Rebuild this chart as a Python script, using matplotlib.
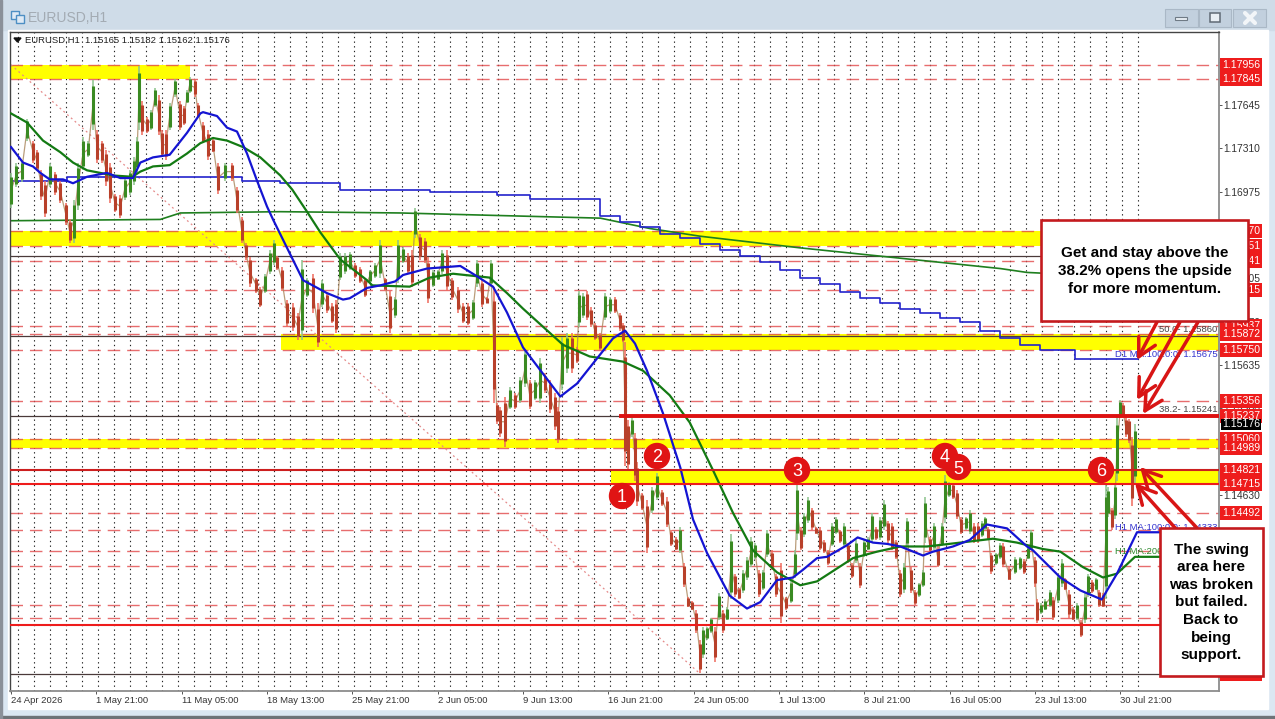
import matplotlib
matplotlib.use("Agg")
import matplotlib.pyplot as plt
from matplotlib.patches import Rectangle, Circle
import numpy as np

plt.rcParams["font.family"] = ["Liberation Sans", "DejaVu Sans"]

W, H = 1275, 719
CHART_L, CHART_T, CHART_R, CHART_B = 10, 32, 1219, 691

# ------------------------------------------------------------------ data
title_text = "EURUSD,H1  1.15165 1.15182 1.15162 1.15176"
time_ticks = [0, 128, 256, 384, 512, 640, 768, 896, 1024, 1152, 1280, 1408, 1536, 1664]
time_labels = ["24 Apr 2026", "1 May 21:00", "11 May 05:00", "18 May 13:00", "25 May 21:00",
               "2 Jun 05:00", "9 Jun 13:00", "16 Jun 21:00", "24 Jun 05:00", "1 Jul 13:00",
               "8 Jul 21:00", "16 Jul 05:00", "23 Jul 13:00", "30 Jul 21:00"]
price_ticks = [1.17980, 1.17645, 1.17310, 1.16975, 1.16305, 1.15970, 1.15635, 1.15300, 1.14630]

# hourly bar number of each sampled candle, with its high and low
bars = [0, 8, 16, 24, 33, 39, 45, 51, 58, 66, 74, 82, 88, 94, 100, 108, 116, 123, 129, 136,
        142, 148, 156, 164, 171, 178, 184, 189, 192, 196, 204, 210, 216, 222, 226, 232, 238, 246, 254, 260,
        264, 268, 276, 280, 288, 296, 303, 310, 321, 332, 339, 346, 352, 358, 368, 374, 381, 388, 394, 399,
        406, 414, 423, 430, 436, 444, 453, 460, 466, 474, 482, 488, 494, 501, 508, 516, 524, 531, 538, 546,
        554, 561, 568, 576, 580, 588, 596, 602, 606, 614, 621, 626, 633, 640, 646, 654, 662, 670, 678, 686,
        693, 699, 706, 714, 720, 724, 729, 734, 741, 748, 756, 764, 771, 778, 786, 794, 801, 808, 816, 820,
        826, 834, 842, 849, 852, 858, 864, 870, 876, 884, 891, 898, 906, 914, 918, 921, 926, 932, 936, 939,
        946, 954, 962, 969, 976, 984, 990, 998, 1004, 1010, 1016, 1022, 1028, 1034, 1038, 1044, 1050, 1056, 1062, 1068,
        1074, 1080, 1086, 1092, 1098, 1104, 1110, 1116, 1122, 1128, 1134, 1142, 1148, 1155, 1162, 1170, 1176, 1179, 1185, 1190,
        1196, 1202, 1208, 1214, 1220, 1226, 1232, 1238, 1244, 1250, 1256, 1262, 1268, 1274, 1280, 1286, 1292, 1298, 1304, 1310,
        1316, 1322, 1328, 1334, 1340, 1344, 1350, 1356, 1362, 1368, 1371, 1378, 1384, 1390, 1396, 1401, 1407, 1413, 1419, 1425,
        1432, 1438, 1444, 1450, 1456, 1461, 1466, 1470, 1478, 1484, 1488, 1497, 1506, 1514, 1520, 1526, 1530, 1536, 1539, 1545,
        1551, 1558, 1563, 1570, 1576, 1581, 1587, 1593, 1599, 1605, 1611, 1616, 1622, 1628, 1632, 1638, 1642, 1646, 1652, 1656,
        1659, 1664, 1668, 1672, 1677, 1682, 1686]
highs = [1.1712, 1.1720, 1.1722, 1.1754, 1.1737, 1.1730, 1.1714, 1.1706, 1.1720, 1.1713, 1.1706, 1.1689, 1.1676, 1.1691, 1.1720, 1.1740, 1.1737, 1.1784, 1.1745, 1.1737,
         1.1730, 1.1720, 1.1696, 1.1695, 1.1709, 1.1714, 1.1724, 1.1740, 1.1795, 1.1768, 1.1755, 1.1761, 1.1778, 1.1772, 1.1745, 1.1745, 1.1766, 1.1785, 1.1768, 1.1764,
         1.1776, 1.1786, 1.1785, 1.1766, 1.1751, 1.1745, 1.1739, 1.1720, 1.1720, 1.1720, 1.1701, 1.1678, 1.1658, 1.1647, 1.1631, 1.1624, 1.1634, 1.1652, 1.1660, 1.1648,
         1.1639, 1.1614, 1.1611, 1.1604, 1.1645, 1.1631, 1.1634, 1.1611, 1.1629, 1.1619, 1.1611, 1.1614, 1.1650, 1.1650, 1.1651, 1.1642, 1.1639, 1.1631, 1.1637, 1.1642,
         1.1660, 1.1631, 1.1621, 1.1616, 1.1660, 1.1655, 1.1650, 1.1652, 1.1685, 1.1665, 1.1662, 1.1647, 1.1637, 1.1637, 1.1652, 1.1652, 1.1631, 1.1624, 1.1611, 1.1611,
         1.1614, 1.1645, 1.1629, 1.1616, 1.1645, 1.1624, 1.1534, 1.1531, 1.1539, 1.1546, 1.1542, 1.1554, 1.1575, 1.1552, 1.1552, 1.1569, 1.1557, 1.1552, 1.1542, 1.1531,
         1.1585, 1.1588, 1.1588, 1.1577, 1.1621, 1.1619, 1.1621, 1.1608, 1.1596, 1.1588, 1.1619, 1.1616, 1.1616, 1.1604, 1.1596, 1.1581, 1.1521, 1.1523, 1.1511, 1.1488,
         1.1464, 1.1459, 1.1469, 1.1480, 1.1467, 1.1461, 1.1436, 1.1430, 1.1438, 1.1410, 1.1384, 1.1381, 1.1374, 1.1351, 1.1361, 1.1361, 1.1368, 1.1361, 1.1387, 1.1374,
         1.1376, 1.1433, 1.1402, 1.1391, 1.1405, 1.1415, 1.1430, 1.1426, 1.1405, 1.1405, 1.1436, 1.1420, 1.1402, 1.1410, 1.1384, 1.1397, 1.1420, 1.1472, 1.1438, 1.1449,
         1.1461, 1.1453, 1.1438, 1.1438, 1.1428, 1.1420, 1.1441, 1.1446, 1.1436, 1.1441, 1.1426, 1.1410, 1.1428, 1.1410, 1.1428, 1.1430, 1.1449, 1.1438, 1.1446, 1.1459,
         1.1443, 1.1441, 1.1428, 1.1405, 1.1410, 1.1445, 1.1407, 1.1389, 1.1395, 1.1405, 1.1461, 1.1430, 1.1441, 1.1423, 1.1441, 1.1478, 1.1473, 1.1472, 1.1467, 1.1446,
         1.1446, 1.1451, 1.1441, 1.1441, 1.1443, 1.1446, 1.1438, 1.1418, 1.1418, 1.1426, 1.1426, 1.1407, 1.1415, 1.1415, 1.1413, 1.1423, 1.1436, 1.1415, 1.1382, 1.1379,
         1.1382, 1.1389, 1.1384, 1.1402, 1.1413, 1.1399, 1.1389, 1.1376, 1.1379, 1.1366, 1.1387, 1.1402, 1.1397, 1.1399, 1.1389, 1.1387, 1.1472, 1.1469, 1.1453, 1.1472,
         1.1523, 1.1536, 1.1534, 1.1523, 1.1522, 1.1508, 1.1518]
lows = [1.1685, 1.1701, 1.1705, 1.1737, 1.1720, 1.1714, 1.1691, 1.1678, 1.1701, 1.1695, 1.1689, 1.1672, 1.1658, 1.1658, 1.1683, 1.1714, 1.1724, 1.1745, 1.1720, 1.1720,
        1.1702, 1.1689, 1.1682, 1.1677, 1.1691, 1.1695, 1.1703, 1.1713, 1.1745, 1.1741, 1.1743, 1.1745, 1.1763, 1.1741, 1.1724, 1.1722, 1.1745, 1.1771, 1.1745, 1.1749,
        1.1766, 1.1774, 1.1771, 1.1755, 1.1735, 1.1722, 1.1728, 1.1696, 1.1706, 1.1706, 1.1681, 1.1658, 1.1645, 1.1624, 1.1619, 1.1608, 1.1619, 1.1634, 1.1641, 1.1637,
        1.1621, 1.1593, 1.1590, 1.1583, 1.1583, 1.1616, 1.1604, 1.1577, 1.1608, 1.1604, 1.1596, 1.1588, 1.1629, 1.1634, 1.1637, 1.1631, 1.1627, 1.1616, 1.1627, 1.1631,
        1.1631, 1.1621, 1.1588, 1.1600, 1.1627, 1.1642, 1.1634, 1.1624, 1.1662, 1.1645, 1.1642, 1.1611, 1.1624, 1.1629, 1.1634, 1.1621, 1.1614, 1.1604, 1.1596, 1.1594,
        1.1598, 1.1624, 1.1608, 1.1611, 1.1624, 1.1534, 1.1518, 1.1508, 1.1500, 1.1529, 1.1529, 1.1534, 1.1546, 1.1529, 1.1536, 1.1534, 1.1542, 1.1526, 1.1513, 1.1503,
        1.1544, 1.1557, 1.1557, 1.1565, 1.1593, 1.1600, 1.1598, 1.1593, 1.1583, 1.1575, 1.1598, 1.1604, 1.1604, 1.1590, 1.1581, 1.1485, 1.1482, 1.1508, 1.1474, 1.1454,
        1.1451, 1.1418, 1.1449, 1.1459, 1.1454, 1.1438, 1.1423, 1.1420, 1.1418, 1.1392, 1.1376, 1.1374, 1.1356, 1.1325, 1.1337, 1.1351, 1.1356, 1.1334, 1.1366, 1.1356,
        1.1366, 1.1382, 1.1384, 1.1382, 1.1387, 1.1397, 1.1407, 1.1413, 1.1384, 1.1389, 1.1415, 1.1405, 1.1384, 1.1364, 1.1374, 1.1379, 1.1399, 1.1428, 1.1420, 1.1430,
        1.1441, 1.1436, 1.1433, 1.1420, 1.1418, 1.1409, 1.1423, 1.1433, 1.1426, 1.1423, 1.1410, 1.1399, 1.1410, 1.1391, 1.1415, 1.1420, 1.1426, 1.1428, 1.1428, 1.1436,
        1.1426, 1.1420, 1.1413, 1.1384, 1.1387, 1.1423, 1.1387, 1.1378, 1.1384, 1.1392, 1.1426, 1.1419, 1.1420, 1.1407, 1.1423, 1.1441, 1.1461, 1.1460, 1.1444, 1.1433,
        1.1436, 1.1433, 1.1426, 1.1426, 1.1430, 1.1436, 1.1428, 1.1402, 1.1409, 1.1413, 1.1407, 1.1397, 1.1402, 1.1405, 1.1402, 1.1413, 1.1420, 1.1392, 1.1364, 1.1371,
        1.1374, 1.1376, 1.1366, 1.1379, 1.1392, 1.1389, 1.1368, 1.1366, 1.1366, 1.1353, 1.1364, 1.1384, 1.1387, 1.1389, 1.1376, 1.1376, 1.1382, 1.1446, 1.1436, 1.1444,
        1.1474, 1.1523, 1.1523, 1.1508, 1.1503, 1.1454, 1.1472]

ma100_bars = [0, 18, 33, 44, 58, 78, 93, 114, 144, 164, 183, 194, 213, 238, 264, 284, 288, 309, 324, 339,
              354, 369, 384, 393, 438, 474, 498, 508, 534, 554, 576, 588, 624, 674, 699, 723, 744, 768, 824, 849,
              903, 921, 936, 954, 978, 1004, 1023, 1044, 1078, 1104, 1124, 1149, 1173, 1188, 1209, 1224, 1254, 1270, 1293, 1314,
              1334, 1368, 1383, 1413, 1438, 1464, 1494, 1524, 1533, 1574, 1604, 1636, 1659, 1689, 1723]
ma100_vals = [1.1732, 1.1720, 1.1717, 1.1712, 1.1707, 1.1707, 1.1704, 1.1709, 1.1712, 1.1708, 1.1708, 1.1720, 1.1724, 1.1726, 1.1743, 1.1758, 1.1759, 1.1756, 1.1747, 1.1744,
              1.1727, 1.1706, 1.1686, 1.1676, 1.1629, 1.1619, 1.1614, 1.1615, 1.1623, 1.1625, 1.1628, 1.1633, 1.1638, 1.1640, 1.1632, 1.1624, 1.1604, 1.1577, 1.1539, 1.1549,
              1.1584, 1.1590, 1.1580, 1.1559, 1.1526, 1.1484, 1.1444, 1.1418, 1.1385, 1.1375, 1.1380, 1.1397, 1.1399, 1.1405, 1.1414, 1.1415, 1.1424, 1.1430, 1.1426, 1.1425,
              1.1423, 1.1416, 1.1419, 1.1423, 1.1428, 1.1440, 1.1437, 1.1423, 1.1420, 1.1399, 1.1389, 1.1382, 1.1402, 1.1434, 1.1434]
ma200_bars = [0, 24, 48, 74, 93, 114, 134, 153, 182, 194, 213, 238, 264, 284, 303, 324, 348, 374, 404, 422,
              444, 464, 494, 534, 542, 598, 628, 663, 718, 744, 768, 828, 868, 918, 948, 988, 1018, 1053, 1083, 1113,
              1149, 1184, 1209, 1239, 1263, 1299, 1334, 1374, 1424, 1473, 1509, 1548, 1574, 1608, 1638, 1659, 1686, 1723]
ma200_vals = [1.1758, 1.1751, 1.1737, 1.1728, 1.1720, 1.1714, 1.1712, 1.1710, 1.1709, 1.1713, 1.1717, 1.1718, 1.1727, 1.1735, 1.1739, 1.1737, 1.1732, 1.1724, 1.1710, 1.1699,
              1.1682, 1.1666, 1.1645, 1.1629, 1.1625, 1.1624, 1.1631, 1.1634, 1.1631, 1.1619, 1.1607, 1.1579, 1.1570, 1.1566, 1.1559, 1.1540, 1.1519, 1.1482, 1.1449, 1.1420,
              1.1403, 1.1393, 1.1396, 1.1406, 1.1414, 1.1419, 1.1423, 1.1423, 1.1426, 1.1429, 1.1426, 1.1421, 1.1419, 1.1407, 1.1399, 1.1402, 1.1415, 1.1415]
d1_ma100_bars = [0, 84, 346, 404, 494, 628, 729, 778, 884, 914, 944, 974, 1004, 1034, 1064, 1094, 1124, 1154, 1184, 1214,
                 1244, 1274, 1304, 1334, 1364, 1394, 1424, 1454, 1484, 1514, 1544, 1596, 1690]
d1_ma100_vals = [1.1706, 1.1709, 1.1706, 1.1704, 1.1699, 1.1697, 1.1695, 1.1692, 1.1679, 1.1674, 1.1670, 1.1665, 1.1662, 1.1657, 1.1652, 1.1648, 1.1643, 1.1637, 1.1631, 1.1626,
                 1.1620, 1.1615, 1.1611, 1.1607, 1.1604, 1.1600, 1.1597, 1.1590, 1.1584, 1.1579, 1.1575, 1.1568, 1.1568]
d1_ma200_bars = [0, 224, 254, 404, 584, 734, 884, 958, 1034, 1184, 1334, 1484, 1524, 1686]
d1_ma200_vals = [1.1675, 1.1676, 1.1681, 1.1682, 1.1681, 1.1679, 1.1677, 1.1669, 1.1663, 1.1654, 1.1646, 1.1638, 1.1635, 1.1631]

dashed_levels = [1.17956, 1.17845, 1.16670, 1.16551, 1.16441, 1.16215, 1.15937, 1.15872, 1.15750, 1.15356,
                 1.15060, 1.14989, 1.14492, 1.14357, 1.14195, 1.14079, 1.13778, 1.13677]
tag_levels = [1.17956, 1.17845, 1.16670, 1.16551, 1.16441, 1.16215, 1.15937, 1.15872, 1.15750, 1.15356,
              1.15237, 1.15060, 1.14989, 1.14821, 1.14715, 1.14492, 1.13244]
dark_levels = [1.16477, 1.15860, 1.15241, 1.13244]
solid_levels = [1.14821, 1.14715, 1.13623]
thick_level = 1.15237
thick_start = 915
last_price = 1.15176

band_tops = [1.17956, 1.16670, 1.15872, 1.15060, 1.14821]
band_bottoms = [1.17845, 1.16551, 1.15750, 1.14989, 1.14715]
band_starts = [0, 0, 405, 0, 900]
band_ends = [268, 1812, 1812, 1812, 1812]

fib_bars = [0, 1034]
fib_vals = [1.17956, 1.13244]

# ------------------------------------------------------------------ figure
fig = plt.figure(figsize=(W / 100, H / 100), dpi=100, facecolor="#dbe7f2")


def px_axes(l, t, r, b, **kw):
    return fig.add_axes([l / W, 1 - b / H, (r - l) / W, (b - t) / H], **kw)


# window chrome underneath
bg = px_axes(0, 0, W, H, zorder=0)
bg.set_xlim(0, W)
bg.set_ylim(H, 0)
bg.axis("off")
bg.add_patch(Rectangle((0, 0), W, 30, color="#cfdce8"))
bg.add_patch(Rectangle((8, 30), 1260, 679, color="white"))
bg.add_patch(Rectangle((0, 716), W, 3, color="#6e7378"))
bg.add_patch(Rectangle((0, 0), 1.5, H, color="#8a9099"))
for bx, bw in [(1165, 33), (1199, 32), (1233, 33)]:
    bg.add_patch(Rectangle((bx, 9), bw, 18, fc="#c2d0de", ec="#aab8c6", lw=0.8))
bg.add_patch(Rectangle((1175, 17), 12, 3, fc="#e8eef4", ec="#6f7a85", lw=0.8))
bg.add_patch(Rectangle((1210, 13), 10, 9, fc="#e8eef4", ec="#5f6a75", lw=1.1))
bg.plot([1245, 1255], [13, 23], color="#f2f5f8", lw=3, solid_capstyle="round")
bg.plot([1245, 1255], [23, 13], color="#f2f5f8", lw=3, solid_capstyle="round")
bg.add_patch(Rectangle((11, 11), 8, 8, fc="#dfeaf5", ec="#4d8fc4", lw=1))
bg.add_patch(Rectangle((16, 15), 8, 8, fc="#dfeaf5", ec="#4d8fc4", lw=1))
bg.text(28, 18, "EURUSD,H1", fontsize=10, color="#a3abb3", va="center")

ax = px_axes(CHART_L, CHART_T, CHART_R, CHART_B, zorder=1, facecolor="white")
ax.set_xlim(-1.5, 1812)
ax.set_ylim(1.13112, 1.18210)

# daily dotted separators
ax.vlines(np.arange(11, 1700, 24), 1.13112, 1.18210, color="#222222", lw=0.8,
          linestyles=(0, (1.2, 3.0)), zorder=1)

for top, bot, a, b in zip(band_tops, band_bottoms, band_starts, band_ends):
    ax.fill_between([a, b], bot, top, color="#ffff00", lw=0, zorder=1.5)
for lev in dashed_levels:
    ax.axhline(lev, color="#e2484a", lw=1.0, ls=(0, (9, 5)), alpha=0.8, zorder=2)
for lev in dark_levels:
    ax.axhline(lev, color="#4a3a3a", lw=0.9, zorder=2)
ax.plot(fib_bars, fib_vals, color="#e58a8a", lw=0.9, ls=(0, (1.5, 2.5)), zorder=2)
for lev, c in zip(solid_levels, ["#cc1f1f", "#ee1c1c", "#ee1c1c"]):
    ax.axhline(lev, color=c, lw=1.5, zorder=4)
ax.plot([thick_start, 1812], [thick_level, thick_level], color="#dd1111", lw=2.8, zorder=4)

# moving averages
ax.plot(d1_ma200_bars, d1_ma200_vals, color="#1f7f1f", lw=1.2, zorder=2.5)
ax.step(d1_ma100_bars, d1_ma100_vals, where="post", color="#2222cc", lw=1.2, zorder=2.5)

# candles
highs_a = np.array(highs)
lows_a = np.array(lows)
mids = (highs_a + lows_a) / 2
rising = np.r_[True, np.diff(mids) > 0]
ax.plot(bars, mids, color="#a9855a", lw=0.9, alpha=0.8, zorder=2.6)
wick_col = np.where(rising, "#8cc28c", "#ef6a5c")
ax.vlines(bars, lows_a, highs_a, colors=list(wick_col), lw=1.1, zorder=2.7)
span = highs_a - lows_a
body_col = np.where(rising, "#3a8a22", "#b8402a")
ax.vlines(bars, lows_a + 0.12 * span, highs_a - 0.12 * span, colors=list(body_col), lw=2.2, zorder=2.8)

ax.plot(ma200_bars, ma200_vals, color="#137a13", lw=1.6, zorder=3, solid_joinstyle="round")
ax.plot(ma100_bars, ma100_vals, color="#1414d2", lw=1.6, zorder=3.1, solid_joinstyle="round")

# axes furniture
ax.yaxis.tick_right()
ax.set_yticks(price_ticks, [f"{p:.5f}" for p in price_ticks])
ax.set_xticks(time_ticks, time_labels, ha="left")
ax.tick_params(axis="y", length=2, width=0.7, color="#555555", labelsize=7.4, labelcolor="#333333", pad=0.8)
ax.tick_params(axis="x", length=2, width=0.7, color="#555555", labelsize=6.8, labelcolor="#333333", pad=1.5)
for s in ["right", "bottom"]:
    ax.spines[s].set_color("#8c8c8c")
    ax.spines[s].set_linewidth(1.3)
for s in ["left", "top"]:
    ax.spines[s].set_color("#444444")
    ax.spines[s].set_linewidth(1.0)

ax.text(21, 1.18148, title_text, fontsize=6.8, color="#222222", va="center", zorder=5)

trans = ax.get_yaxis_transform()
tag_box = dict(boxstyle="square,pad=0.2", fc="#ee1c1c", ec="none")
for lev in tag_levels:
    ax.text(1.0025, lev, f"{lev:.5f}", transform=trans, fontsize=7.6, color="white", va="center", ha="left",
            zorder=6, clip_on=False, bbox=tag_box)
ax.text(1.0025, last_price, f"{last_price:.5f}", transform=trans, fontsize=7.6, color="white", va="center",
        ha="left", zorder=6, clip_on=False, bbox=dict(boxstyle="square,pad=0.05", fc="black", ec="none"))

ax.text(0.9985, 1.15860 + 0.00045, "50.0- 1.15860", transform=trans, fontsize=6.8, color="#444444", ha="right", va="center", zorder=5)
ax.text(0.9985, 1.15241 + 0.00045, "38.2- 1.15241", transform=trans, fontsize=6.8, color="#444444", ha="right", va="center", zorder=5)
ax.text(0.9985, 1.15675 + 0.00042, "D1 MA:100:0:0: 1.15675", transform=trans, fontsize=6.8, color="#3434d0", ha="right", va="center", zorder=5)
ax.text(0.9985, 1.14333 + 0.00042, "H1 MA:100:0:0: 1.14333", transform=trans, fontsize=6.8, color="#3434d0", ha="right", va="center", zorder=5)
ax.text(0.9985, 1.14150 + 0.00042, "H1 MA:200:0:0: 1.14150", transform=trans, fontsize=6.8, color="#2f8a2f", ha="right", va="center", zorder=5)

# annotations on top, in screen pixels
ov = px_axes(0, 0, W, H, zorder=3)
ov.set_xlim(0, W)
ov.set_ylim(H, 0)
ov.axis("off")
ov.patch.set_alpha(0)

ov.fill([14, 21, 17.5], [38, 38, 42], color="#111111")

for n, (cx, cy) in enumerate([(622, 496), (657, 456), (797, 470), (945, 456), (958, 467), (1101, 470)], 1):
    ov.add_patch(Circle((cx, cy), 12.5, color="#e01414", zorder=5))
    ov.text(cx, cy, str(n), color="white", fontsize=13, ha="center", va="center_baseline", zorder=6)

arrow_kw = dict(arrowstyle="->,head_length=0.8,head_width=0.42", color="#d81515", lw=2.5,
                shrinkA=0, shrinkB=0, mutation_scale=16)
for start, tip in [((1157, 322), (1137, 360)), ((1180, 322), (1137, 400)), ((1198, 322), (1143, 414)),
                   ((1197, 528), (1140, 467)), ((1177, 530), (1135, 483))]:
    ov.annotate("", xy=tip, xytext=start, arrowprops=arrow_kw, zorder=7)

ov.add_patch(Rectangle((1041, 220), 207, 101, fc="white", ec="#c41a1e", lw=1.9, zorder=8))
ov.text(1144.5, 271, "Get and stay above the\n38.2% opens the upside\nfor more momentum.", fontsize=11,
        fontweight="bold", color="black", ha="center", va="center", linespacing=1.33, zorder=9)
ov.add_patch(Rectangle((1160, 528), 103, 148, fc="white", ec="#c41a1e", lw=1.9, zorder=8))
ov.text(1211, 602.5, "The swing\narea here\nwas broken\nbut failed.\nBack to\nbeing\nsupport.", fontsize=11,
        fontweight="bold", color="black", ha="center", va="center", linespacing=1.33, zorder=9)

fig.savefig("out.png", dpi=100, facecolor=fig.get_facecolor())
